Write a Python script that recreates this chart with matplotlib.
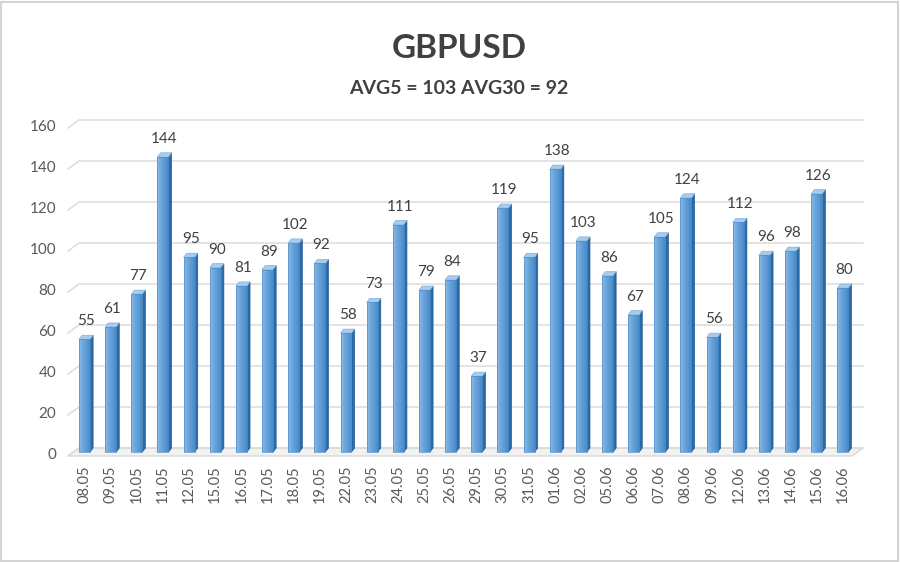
import numpy as np
import matplotlib.pyplot as plt
from matplotlib.patches import Polygon, Rectangle
from matplotlib.colors import LinearSegmentedColormap

# --- data -------------------------------------------------------------------
dates = ["08.05", "09.05", "10.05", "11.05", "12.05", "15.05", "16.05", "17.05",
         "18.05", "19.05", "22.05", "23.05", "24.05", "25.05", "26.05", "29.05",
         "30.05", "31.05", "01.06", "02.06", "05.06", "06.06", "07.06", "08.06",
         "09.06", "12.06", "13.06", "14.06", "15.06", "16.06"]
values = [55, 61, 77, 144, 95, 90, 81, 89, 102, 92, 58, 73, 111, 79, 84, 37,
          119, 95, 138, 103, 86, 67, 105, 124, 56, 112, 96, 98, 126, 80]
yticks = [0, 20, 40, 60, 80, 100, 120, 140, 160]
title = "GBPUSD"
subtitle = "AVG5 = 103 AVG30 = 92"

# --- style ------------------------------------------------------------------
plt.rcParams["font.family"] = ["Lato", "DejaVu Sans"]
TXT = "#404040"
GRID = "#d9d9d9"
W, H = 900, 562

fig = plt.figure(figsize=(9, 5.62), dpi=100)
fig.patch.set_facecolor("white")
fig.patches.append(Rectangle((0.001, 0.001), 0.997, 0.996, transform=fig.transFigure,
                             fill=False, edgecolor="#d4d4d4", linewidth=1.5))

# axes: back wall from x=79..863 px, y 0 at 448 px, 160 at 120 px
ax = fig.add_axes([79 / W, (H - 448) / H, (863 - 79) / W, (448 - 120) / H])
ax.set_xlim(-0.21, 29.77)
ax.set_ylim(0, 160)
ax.axis("off")

x = np.arange(len(values))
xl, xr = ax.get_xlim()
dxf, dyf = 0.42, 3.9            # floor depth (data units)
bw, dxb, dyb = 0.42, 0.12, 2.0  # bar width / bar depth

# floor
ax.add_patch(Polygon([(xl - dxf, -dyf), (xr - dxf, -dyf), (xr, 0), (xl, 0)],
                     closed=True, facecolor="#f2f2f2", edgecolor=GRID,
                     linewidth=1.0, clip_on=False, zorder=1))

# back wall gridlines with slanted left segment
for t in yticks:
    ax.plot([xl - dxf, xl, xr], [t - dyf, t, t], color=GRID, linewidth=1.0,
            clip_on=False, zorder=1)
    ax.text(xl - dxf - 0.45, t - dyf + 0.3, str(t), ha="right", va="center",
            fontsize=11, color="#595959")

# gradient for bar fronts
grad = np.linspace(0, 1, 64).reshape(1, -1)
cmap = LinearSegmentedColormap.from_list(
    "barfront", ["#8dbbe6", "#6fa8dc", "#5b9bd5", "#4a8ac8"])

for xi, v in zip(x, values):
    x0, x1 = xi - bw / 2, xi + bw / 2
    y0, y1 = -dyb, v - dyb
    # side face
    ax.add_patch(Polygon([(x1, y0), (x1 + dxb, 0), (x1 + dxb, v), (x1, y1)],
                         closed=True, facecolor="#2a6aa6", edgecolor="#245d93",
                         linewidth=0.5, zorder=3, clip_on=False))
    # top face
    ax.add_patch(Polygon([(x0, y1), (x1, y1), (x1 + dxb, v), (x0 + dxb, v)],
                         closed=True, facecolor="#a9cbec", edgecolor="#7fb0de",
                         linewidth=0.5, zorder=3, clip_on=False))
    # front face with gradient
    front = Rectangle((x0, y0), bw, v, facecolor="none", edgecolor="#4f8fcb",
                      linewidth=0.5, zorder=4, clip_on=False)
    ax.add_patch(front)
    im = ax.imshow(grad, cmap=cmap, extent=(x0, x1, y0, y1), aspect="auto",
                   zorder=3.5, interpolation="bilinear")
    im.set_clip_path(front)
    # value label
    ax.annotate(str(v), (xi + dxb / 2, v), xytext=(0, 5), textcoords="offset points",
                ha="center", va="bottom", fontsize=11, color=TXT, zorder=5,
                annotation_clip=False)
    # date label
    ax.annotate(dates[xi], (xi, -dyf), xytext=(0, -7), textcoords="offset points",
                ha="center", va="top", rotation=90, fontsize=10.5,
                color="#595959", annotation_clip=False)

ax.set_xlim(xl, xr)
ax.set_ylim(0, 160)

fig.text(459 / W, 1 - 49 / H, title, ha="center", va="center", fontsize=24,
         fontweight="bold", color=TXT)
fig.text(459 / W, 1 - 89 / H, subtitle, ha="center", va="center", fontsize=14,
         fontweight="bold", color=TXT)

fig.savefig("out.png", dpi=100)
